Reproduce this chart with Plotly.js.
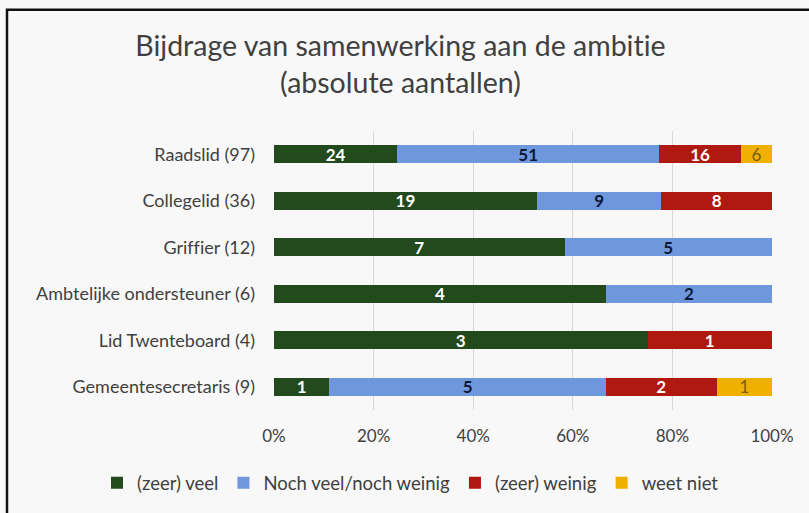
<!DOCTYPE html>
<html>
<head>
<meta charset="utf-8">
<script src="https://cdn.plot.ly/plotly-3.0.1.min.js"></script>
<style>html,body{margin:0;padding:0;background:#f8f8f8;}#chart{width:809px;height:513px;}
svg text{font-variant-ligatures:none;font-feature-settings:"liga" 0,"clig" 0;}</style>
</head>
<body>
<div id="chart"></div>
<script>
const categories = ["Raadslid (97)", "Collegelid (36)", "Griffier (12)", "Ambtelijke ondersteuner (6)", "Lid Twenteboard (4)", "Gemeentesecretaris (9)"];
const seriesNames = ["(zeer) veel", "Noch veel/noch weinig", "(zeer) weinig", "weet niet"];
const zeerVeel = [24, 19, 7, 4, 3, 1];
const nochNoch = [51, 9, 5, 2, 0, 5];
const zeerWeinig = [16, 8, 0, 0, 1, 2];
const weetNiet = [6, 0, 0, 0, 0, 1];
const tickVals = [0, 20, 40, 60, 80, 100];
const tickText = ["0%", "20%", "40%", "60%", "80%", "100%"];

const colors = ["#234a1c", "#6f98dc", "#b0190f", "#f0b000"];
const textColors = ["#ffffff", "#0b1838", "#ffffff", "#7a5c10"];
const textWeights = ["bold", "bold", "bold", "normal"];
const seriesValues = [zeerVeel, nochNoch, zeerWeinig, weetNiet];
const FONT = "Lato, 'Open Sans', sans-serif";

const traces = seriesValues.map((vals, i) => ({
  type: "bar",
  orientation: "h",
  name: seriesNames[i],
  y: categories,
  x: vals,
  text: vals.map(v => v > 0 ? String(v) : ""),
  textposition: "inside",
  insidetextanchor: "middle",
  textangle: 0,
  constraintext: "none",
  textfont: {family: FONT, size: 17, color: textColors[i], weight: textWeights[i]},
  marker: {color: colors[i], line: {width: 0}},
  hoverinfo: "skip"
}));

const layout = {
  width: 809, height: 513,
  paper_bgcolor: "#f8f8f8",
  plot_bgcolor: "#f8f8f8",
  barmode: "stack",
  barnorm: "percent",
  bargap: 0.615,
  margin: {l: 274, r: 37, t: 131, b: 102},
  font: {family: FONT, color: "#404040"},
  title: {
    text: "Bijdrage van samenwerking aan de ambitie<br>(absolute aantallen)",
    font: {family: FONT, size: 28.5, color: "#404040"},
    x: 0.495, xanchor: "center", xref: "container",
    y: 0.89, yanchor: "middle", yref: "container"
  },
  xaxis: {
    range: [0, 100],
    tickvals: tickVals, ticktext: tickText,
    showgrid: true, gridcolor: "#d9d9d9", gridwidth: 1,
    zeroline: false, showline: false,
    tickfont: {family: FONT, size: 17, color: "#404040"},
    ticks: "", ticklabelstandoff: 14,
    fixedrange: true
  },
  yaxis: {
    autorange: "reversed",
    type: "category",
    showgrid: false, zeroline: false, showline: false,
    tickfont: {family: FONT, size: 18, color: "#404040"},
    ticks: "", ticklabelstandoff: 18,
    fixedrange: true
  },
  showlegend: true,
  legend: {
    orientation: "h",
    traceorder: "normal",
    xref: "paper", yref: "paper",
    x: (97 - 274) / 498, xanchor: "left",
    y: -(484 - 411.4) / 281, yanchor: "middle",
    font: {family: FONT, size: 18.5, color: "#404040"},
    itemwidth: 30,
    bgcolor: "rgba(0,0,0,0)"
  },
  shapes: [{
    type: "rect", xref: "paper", yref: "paper",
    x0: -267/498, x1: 1.2, y0: -0.6, y1: 1 + 122/281,
    line: {color: "#111111", width: 2.5},
    fillcolor: "rgba(0,0,0,0)",
    layer: "above"
  }]
};

Plotly.newPlot("chart", traces, layout, {displayModeBar: false, staticPlot: true});
</script>
</body>
</html>
